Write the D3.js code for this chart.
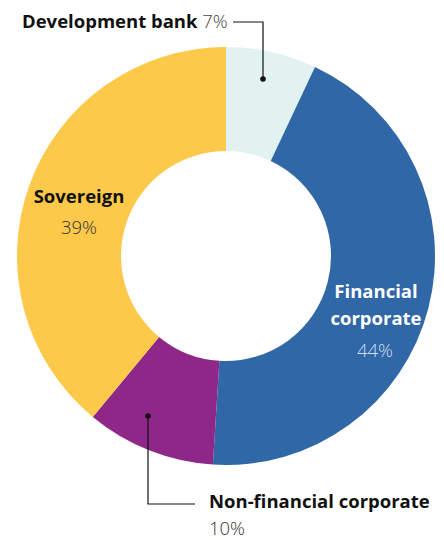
<!DOCTYPE html>
<html><head><meta charset="utf-8">
<script src="https://cdn.jsdelivr.net/npm/d3@7"></script>
<style>body{margin:0;background:#fff}svg{display:block}text{font-family:"Open Sans",Lato,sans-serif}</style>
</head><body>
<svg id="c" width="444" height="540"></svg>
<script>
const categories = ["Development bank","Financial corporate","Non-financial corporate","Sovereign"];
const values = [7,44,10,39];
const valueLabels = ["7%","44%","10%","39%"];
const colors = ["#e2f2f1","#3067a6","#8f2789","#fdc94b"];

const svg = d3.select("#c");
const cx = 226, cy = 256, R = 209, r = 105;
const g = svg.append("g").attr("transform",`translate(${cx},${cy})`);
const pie = d3.pie().sort(null).value(d=>d.v);
const data = pie(categories.map((c,i)=>({c,v:values[i],i})));
const arc = d3.arc().innerRadius(r).outerRadius(R);
g.selectAll("path").data(data).join("path").attr("d",arc).attr("fill",d=>colors[d.data.i]);

// leader lines
const line = svg.append("g").attr("stroke","#111").attr("fill","none").attr("stroke-width",1.2);
line.append("path").attr("d","M233,22H263V79");
line.append("path").attr("d","M148,416V504H195");
svg.append("circle").attr("cx",263).attr("cy",79).attr("r",2.8).attr("fill","#111");
svg.append("circle").attr("cx",148).attr("cy",416).attr("r",2.8).attr("fill","#111");

const fs = 18.5;
// Development bank
const t1 = svg.append("text").attr("x",22).attr("y",28).attr("font-size",fs);
t1.append("tspan").attr("font-weight",700).attr("fill","#111").text(categories[0]);
t1.append("tspan").attr("font-weight",300).attr("fill","#444").text(" "+valueLabels[0]);

// Sovereign
svg.append("text").attr("x",79).attr("y",203).attr("text-anchor","middle").attr("font-size",fs).attr("font-weight",700).attr("fill","#111").text(categories[3]);
svg.append("text").attr("x",79).attr("y",234).attr("text-anchor","middle").attr("font-size",fs).attr("font-weight",300).attr("fill","#333").text(valueLabels[3]);

// Financial corporate
svg.append("text").attr("x",376).attr("y",298).attr("text-anchor","middle").attr("font-size",fs).attr("font-weight",700).attr("fill","#fff").text("Financial");
svg.append("text").attr("x",376).attr("y",325).attr("text-anchor","middle").attr("font-size",fs).attr("font-weight",700).attr("fill","#fff").text("corporate");
svg.append("text").attr("x",375).attr("y",357).attr("text-anchor","middle").attr("font-size",fs).attr("font-weight",300).attr("fill","#d3dff0").text(valueLabels[1]);

// Non-financial corporate
svg.append("text").attr("x",209).attr("y",508).attr("font-size",fs).attr("font-weight",700).attr("fill","#111").text(categories[2]);
svg.append("text").attr("x",209).attr("y",535).attr("font-size",fs).attr("font-weight",300).attr("fill","#333").text(valueLabels[2]);
</script>
</body></html>
